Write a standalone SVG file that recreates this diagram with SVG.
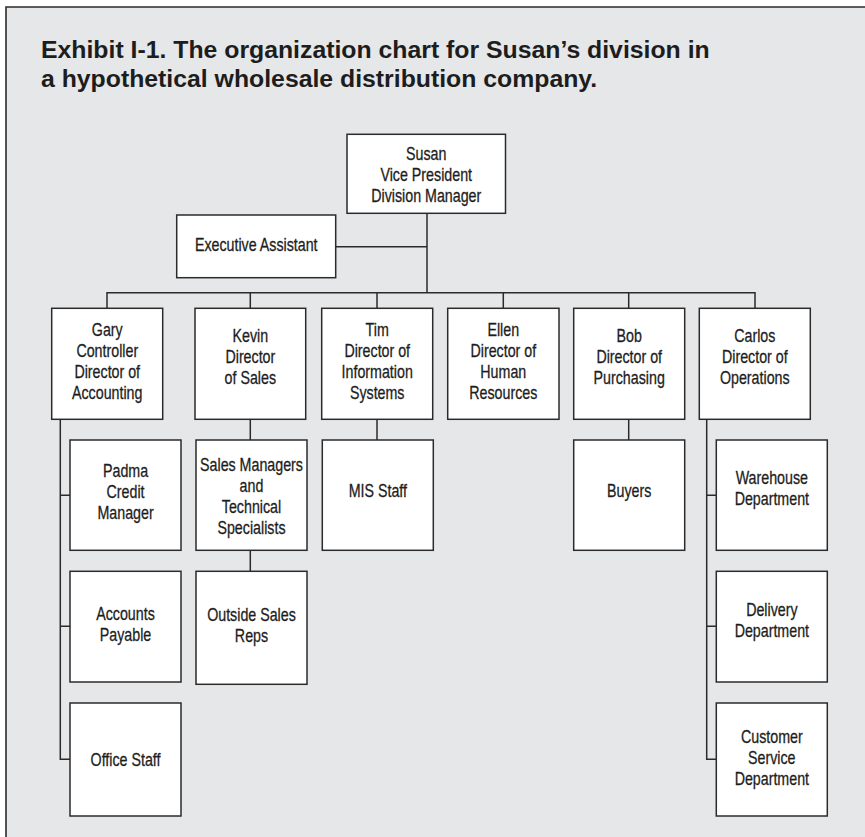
<svg xmlns="http://www.w3.org/2000/svg" width="865" height="837" viewBox="0 0 865 837">
<style>
.bg{fill:#e6e7e8}
.frame{stroke:#2b2b2b;stroke-width:1.6;fill:none}
.box{fill:#ffffff;stroke:#2b2b2b;stroke-width:1.5}
.ln{stroke:#2b2b2b;stroke-width:1.5;fill:none}
.title{font-family:"Liberation Sans",Arial,sans-serif;font-weight:bold;font-size:24.8px;fill:#1d1d1d}
.t{font-family:"Liberation Sans",Arial,sans-serif;font-size:19px;fill:#1d1d1d;stroke:#1d1d1d;stroke-width:0.3;text-anchor:middle;transform-box:fill-box;transform-origin:center;transform:scaleX(0.75)}
</style>
<rect x="0" y="0" width="865" height="837" fill="#ffffff"/>
<rect class="bg" x="6" y="7" width="859" height="830"/>
<path class="frame" d="M6,837 V7 H865"/>
<text class="title" x="41" y="57.5">Exhibit I-1. The organization chart for Susan’s division in</text>
<text class="title" x="41" y="87">a hypothetical wholesale distribution company.</text>

<g id="connectors">
<path class="ln" d="M427,213 V293"/>
<path class="ln" d="M336,246.7 H427"/>
<path class="ln" d="M107,308.3 V292.7 H755 V308.3"/>
<path class="ln" d="M250.3,292.7 V308.3 M377,292.7 V308.3 M503.3,292.7 V308.3 M628.7,292.7 V308.3"/>
<path class="ln" d="M60.3,419.3 V759.3 H70 M60.3,495.3 H70 M60.3,626.3 H70"/>
<path class="ln" d="M706.7,419.3 V759.3 H716.3 M706.7,495.3 H716.3 M706.7,626.3 H716.3"/>
<path class="ln" d="M250.3,419.3 V440 M250.3,550.3 V571.3"/>
<path class="ln" d="M377,419.3 V440"/>
<path class="ln" d="M628.7,419.3 V440"/>
</g>

<g id="susan">
<rect class="box" x="347" y="134.3" width="158.5" height="79"/>
<text class="t" x="426.2" y="160">Susan</text>
<text class="t" x="426.2" y="181.5">Vice President</text>
<text class="t" x="426.2" y="202.5">Division Manager</text>
</g>
<g id="exec-assistant">
<rect class="box" x="176.7" y="215" width="159" height="62.7"/>
<text class="t" x="256.2" y="251.5">Executive Assistant</text>
</g>

<g id="gary">
<rect class="box" x="51.7" y="308.3" width="111" height="111"/>
<text class="t" x="107.2" y="336">Gary</text>
<text class="t" x="107.2" y="357">Controller</text>
<text class="t" x="107.2" y="378">Director of</text>
<text class="t" x="107.2" y="399">Accounting</text>
</g>
<g id="kevin">
<rect class="box" x="195" y="308.3" width="110.7" height="111"/>
<text class="t" x="250.3" y="342">Kevin</text>
<text class="t" x="250.3" y="363">Director</text>
<text class="t" x="250.3" y="384">of Sales</text>
</g>
<g id="tim">
<rect class="box" x="321.7" y="308.3" width="111" height="111"/>
<text class="t" x="377.2" y="336.5">Tim</text>
<text class="t" x="377.2" y="357.5">Director of</text>
<text class="t" x="377.2" y="378.5">Information</text>
<text class="t" x="377.2" y="399.5">Systems</text>
</g>
<g id="ellen">
<rect class="box" x="447.7" y="308.3" width="111.3" height="111"/>
<text class="t" x="503.3" y="336.5">Ellen</text>
<text class="t" x="503.3" y="357.5">Director of</text>
<text class="t" x="503.3" y="378.5">Human</text>
<text class="t" x="503.3" y="399.5">Resources</text>
</g>
<g id="bob">
<rect class="box" x="573.7" y="308.3" width="111" height="111"/>
<text class="t" x="629.2" y="342">Bob</text>
<text class="t" x="629.2" y="363">Director of</text>
<text class="t" x="629.2" y="384">Purchasing</text>
</g>
<g id="carlos">
<rect class="box" x="699.3" y="308.3" width="111" height="111"/>
<text class="t" x="754.8" y="342">Carlos</text>
<text class="t" x="754.8" y="363">Director of</text>
<text class="t" x="754.8" y="384">Operations</text>
</g>

<g id="padma">
<rect class="box" x="70" y="440" width="111" height="110.3"/>
<text class="t" x="125.5" y="477.5">Padma</text>
<text class="t" x="125.5" y="498.5">Credit</text>
<text class="t" x="125.5" y="519.5">Manager</text>
</g>
<g id="accounts-payable">
<rect class="box" x="70" y="571.3" width="111" height="110.7"/>
<text class="t" x="125.5" y="620">Accounts</text>
<text class="t" x="125.5" y="641">Payable</text>
</g>
<g id="office-staff">
<rect class="box" x="70" y="703" width="111" height="113"/>
<text class="t" x="125.5" y="766.5">Office Staff</text>
</g>

<g id="sales-managers">
<rect class="box" x="196" y="440" width="111" height="110.3"/>
<text class="t" x="251.5" y="471">Sales Managers</text>
<text class="t" x="251.5" y="492">and</text>
<text class="t" x="251.5" y="513">Technical</text>
<text class="t" x="251.5" y="534">Specialists</text>
</g>
<g id="outside-sales">
<rect class="box" x="196" y="571.3" width="111" height="113"/>
<text class="t" x="251.5" y="621">Outside Sales</text>
<text class="t" x="251.5" y="642">Reps</text>
</g>

<g id="mis-staff">
<rect class="box" x="322.3" y="440" width="111" height="110.3"/>
<text class="t" x="377.8" y="497">MIS Staff</text>
</g>

<g id="buyers">
<rect class="box" x="573.7" y="440" width="111" height="110.3"/>
<text class="t" x="629.2" y="497.5">Buyers</text>
</g>

<g id="warehouse">
<rect class="box" x="716.3" y="440" width="111" height="110.3"/>
<text class="t" x="771.8" y="484">Warehouse</text>
<text class="t" x="771.8" y="505">Department</text>
</g>
<g id="delivery">
<rect class="box" x="716.3" y="571.3" width="111" height="110.7"/>
<text class="t" x="771.8" y="616">Delivery</text>
<text class="t" x="771.8" y="637">Department</text>
</g>
<g id="customer-service">
<rect class="box" x="716.3" y="703" width="111" height="113"/>
<text class="t" x="771.8" y="743">Customer</text>
<text class="t" x="771.8" y="764">Service</text>
<text class="t" x="771.8" y="785">Department</text>
</g>
</svg>
